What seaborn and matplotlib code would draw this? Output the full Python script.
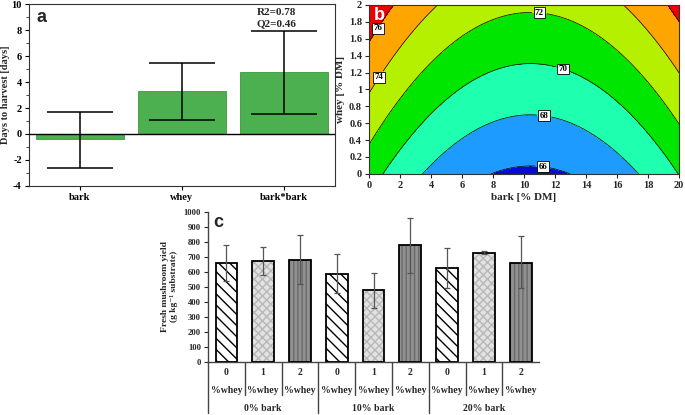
import numpy as np
import matplotlib
matplotlib.use("Agg")
import matplotlib.pyplot as plt
from matplotlib.patches import Rectangle
from matplotlib.ticker import AutoMinorLocator, FormatStrFormatter
import seaborn as sns

# ---------------- data ----------------
# panel a: model coefficients for days to harvest
terms = ["bark", "whey", "bark*bark"]
coef = [-0.4, 3.3, 4.75]
coef_low = [-2.6, 1.1, 1.55]
coef_high = [1.7, 5.5, 7.95]
intercept = 69.0  # model constant (days)
r2_text = "R2=0.78"
q2_text = "Q2=0.46"

# panel b: contour levels & colours
contour_levels = [66, 68, 70, 72, 74, 76]
fill_colors = ["#0a0ad0", "#1e9bff", "#1effb0", "#00e600", "#b4f000", "#ffa500", "#ee0000"]
label_pos = [(11.2, 0.07), (11.3, 0.7), (12.6, 1.3), (11.0, 1.92), (0.6, 1.15), (0.6, 1.72)]

# panel c: fresh mushroom yield
bark_groups = ["0% bark", "10% bark", "20% bark"]
whey_levels = ["0", "1", "2"]
yield_mean = [660, 670, 680, 585, 475, 775, 625, 725, 660]
yield_low = [540, 580, 515, 455, 355, 590, 490, 715, 490]
yield_high = [775, 765, 845, 715, 590, 955, 760, 740, 835]

# ---------------- style ----------------
sns.set_style("ticks")
plt.rcParams["font.family"] = ["Liberation Serif", "DejaVu Serif"]
plt.rcParams["font.weight"] = "bold"
plt.rcParams["axes.labelweight"] = "bold"
plt.rcParams["axes.unicode_minus"] = False
plt.rcParams["hatch.linewidth"] = 1.0
plt.rcParams["xtick.direction"] = "out"
plt.rcParams["ytick.direction"] = "out"

fig = plt.figure(figsize=(6.85, 4.15), dpi=100)
axa = fig.add_axes([0.042, 0.552, 0.447, 0.438])
axb = fig.add_axes([0.5387, 0.581, 0.4526, 0.407])
axc = fig.add_axes([0.3036, 0.1284, 0.4834, 0.3614])

# ---------------- panel a ----------------
sns.barplot(x=terms, y=coef, ax=axa, color="#4caf50", saturation=1, width=0.86,
            edgecolor="#3a9a3e", linewidth=0.6)
c = np.array(coef)
axa.errorbar(range(len(terms)), c, yerr=[c - np.array(coef_low), np.array(coef_high) - c],
             fmt="none", ecolor="black", elinewidth=1.1, capsize=24, capthick=1.1, zorder=5)
axa.axhline(0, color="black", lw=1.0, zorder=4)
axa.set_xlim(-0.5, 2.5)
axa.set_ylim(-4, 10)
axa.set_yticks(range(-4, 11, 2))
axa.yaxis.set_minor_locator(AutoMinorLocator(2))
axa.tick_params(axis="both", labelsize=7.5, length=3, width=0.8, colors="black", pad=2)
axa.tick_params(axis="y", which="minor", length=2, width=0.6)
axa.set_ylabel("Days to harvest [days]", fontsize=7.5, labelpad=1)
for s in axa.spines.values():
    s.set_visible(True)
    s.set_color("#333333")
    s.set_linewidth(0.8)
axa.text(1.93, 9.33, r2_text, ha="center", va="center", fontsize=8)
axa.text(1.93, 8.52, q2_text, ha="center", va="center", fontsize=8)
axa.text(0.025, 0.975, "a", transform=axa.transAxes, ha="left", va="top",
         fontsize=13, fontweight="bold", family="Liberation Sans")

# ---------------- panel b ----------------
bark_grid = np.linspace(0, 20, 241)
whey_grid = np.linspace(0, 2, 241)
X, Y = np.meshgrid(bark_grid, whey_grid)
xb = (X - 10) / 10
xw = Y - 1
Z = intercept + coef[0] * xb + coef[1] * xw + coef[2] * xb ** 2
axb.contourf(X, Y, Z, levels=[50] + contour_levels + [90], colors=fill_colors)
cs = axb.contour(X, Y, Z, levels=contour_levels, colors="black", linewidths=0.5)
labels = axb.clabel(cs, fmt="%d", fontsize=6.5, manual=label_pos, inline=True, inline_spacing=3)
for t in labels:
    t.set_rotation(0)
    t.set_fontweight("bold")
    t.set_bbox(dict(boxstyle="square,pad=0.15", fc="white", ec="black", lw=0.6))
axb.set_xlim(0, 20)
axb.set_ylim(0, 2)
axb.set_xticks(range(0, 21, 2))
axb.set_yticks(np.round(np.arange(0, 2.01, 0.2), 1))
axb.yaxis.set_major_formatter(FormatStrFormatter("%g"))
axb.tick_params(axis="both", labelsize=7.5, length=3, width=0.8, pad=2)
axb.set_xlabel("bark [% DM]", fontsize=8, labelpad=2)
axb.set_ylabel("whey [% DM]", fontsize=8, labelpad=3)
for s in axb.spines.values():
    s.set_visible(True)
    s.set_color("#333333")
    s.set_linewidth(0.8)
axb.text(0.015, 0.99, "b", transform=axb.transAxes, ha="left", va="top",
         fontsize=13, fontweight="bold", family="Liberation Sans", color="white")

# ---------------- panel c ----------------
cats = [f"{b}|{w}" for b in bark_groups for w in whey_levels]
sns.barplot(x=cats, y=yield_mean, ax=axc, color="white", saturation=1, width=0.59)
styles = [("white", "\\\\\\", "black"),
          ("#e2e2e2", "xxxx", "#b8b8b8"),
          ("#919191", "||||", "#6a6a6a")]
for i, p in enumerate(list(axc.patches)):
    fc, hatch, hc = styles[i % 3]
    p.set_facecolor(fc)
    p.set_hatch(hatch)
    p.set_edgecolor(hc)
    p.set_linewidth(0)
    axc.add_patch(Rectangle((p.get_x(), p.get_y()), p.get_width(), p.get_height(),
                            fill=False, ec="black", lw=1.3, zorder=3))
m = np.array(yield_mean)
axc.errorbar(range(len(cats)), m, yerr=[m - np.array(yield_low), np.array(yield_high) - m],
             fmt="none", ecolor="#555555", elinewidth=0.9, capsize=2.5, capthick=0.9, zorder=6)
axc.set_xlim(-0.5, len(cats) - 0.5)
axc.set_ylim(0, 1000)
axc.set_yticks(range(0, 1001, 100))
axc.tick_params(axis="y", labelsize=6.2, length=3, width=0.8, pad=2)
axc.tick_params(axis="x", length=0, labelbottom=False)
axc.set_xlabel("")
sns.despine(ax=axc)
axc.spines["left"].set_color("#444444")
axc.spines["bottom"].set_color("#444444")
axc.spines["left"].set_linewidth(1.0)
axc.spines["bottom"].set_linewidth(1.0)
axc.set_ylabel("Fresh mushroom yield\n(g kg\u207b\u00b9 substrate)", fontsize=6.8, labelpad=4)
axc.text(0.015, 0.985, "c", transform=axc.transAxes, ha="left", va="top",
         fontsize=13, fontweight="bold", family="Liberation Sans")

tr = axc.get_xaxis_transform()
for i, cat in enumerate(cats):
    axc.text(i, -0.075, whey_levels[i % 3], transform=tr, ha="center", va="center", fontsize=7)
    axc.text(i, -0.195, "%whey", transform=tr, ha="center", va="center", fontsize=7)
for g, name in enumerate(bark_groups):
    axc.text(3 * g + 1, -0.31, name, transform=tr, ha="center", va="center", fontsize=7)
for i in range(len(cats)):
    xs = i - 0.5
    if i % 3 == 0:
        axc.plot([xs, xs], [0, -0.345], transform=tr, clip_on=False, color="#444444", lw=1.0)
    else:
        axc.plot([xs, xs], [0, -0.225], transform=tr, clip_on=False, color="#444444", lw=1.0)

fig.savefig("out.png", dpi=100)
